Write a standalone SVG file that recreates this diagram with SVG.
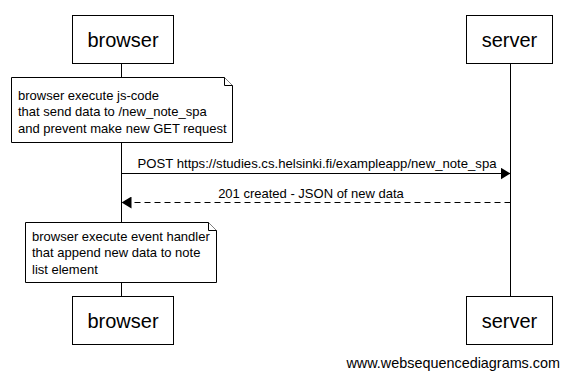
<svg xmlns="http://www.w3.org/2000/svg" width="568" height="378" viewBox="0 0 568 378">
  <style>
    .box { fill: #ffffff; stroke: #000000; stroke-width: 1; }
    .life { stroke: #000000; stroke-width: 1; fill: none; }
    .note { fill: #ffffff; stroke: #000000; stroke-width: 1; }
    .fold { fill: #ffffff; stroke: #000000; stroke-width: 1; }
    .actor { font-family: "Liberation Sans", Arial, sans-serif; font-size: 20px; fill: #000000; text-anchor: middle; }
    .txt { font-family: "Liberation Sans", Arial, sans-serif; font-size: 13px; fill: #000000; }
    .mid { text-anchor: middle; }
    .msg { stroke: #000000; stroke-width: 1; fill: none; }
    .dash { stroke-dasharray: 6 4; }
    .brand { font-family: "Liberation Sans", Arial, sans-serif; font-size: 14.4px; fill: #000000; text-anchor: end; }
  </style>
  <defs>
    <marker id="head" viewBox="0 0 10 12" refX="10" refY="6" markerWidth="10" markerHeight="12" markerUnits="userSpaceOnUse" orient="auto">
      <path d="M0,0 L10,6 L0,12 Z" fill="#000000"/>
    </marker>
  </defs>
  <rect width="568" height="378" fill="#ffffff"/>

  <!-- lifelines -->
  <g id="lifelines">
    <line class="life" x1="121.5" y1="64" x2="121.5" y2="296"/>
    <line class="life" x1="510.5" y1="63" x2="510.5" y2="296"/>
  </g>

  <!-- participants -->
  <g id="browser-top">
    <rect class="box" x="72.5" y="15.5" width="101" height="48"/>
    <text class="actor" x="123" y="47">browser</text>
  </g>
  <g id="server-top">
    <rect class="box" x="466.5" y="15.5" width="86" height="48"/>
    <text class="actor" x="509.5" y="47">server</text>
  </g>
  <g id="browser-bottom">
    <rect class="box" x="72.5" y="296.5" width="101" height="48"/>
    <text class="actor" x="123" y="328">browser</text>
  </g>
  <g id="server-bottom">
    <rect class="box" x="466.5" y="296.5" width="86" height="48"/>
    <text class="actor" x="509.5" y="328">server</text>
  </g>

  <!-- notes -->
  <g id="note-send">
    <path class="note" d="M11.5,77.5 H224.5 L232.5,85.5 V142.5 H11.5 Z"/>
    <path class="fold" d="M224.5,77.5 V85.5 H232.5"/>
    <text class="txt" x="18" y="99.5">browser execute js-code</text>
    <text class="txt" x="18" y="116">that send data to /new_note_spa</text>
    <text class="txt" x="18" y="132.5">and prevent make new GET request</text>
  </g>
  <g id="note-handler">
    <path class="note" d="M25.5,222.5 H208.5 L216.5,230.5 V282.5 H25.5 Z"/>
    <path class="fold" d="M208.5,222.5 V230.5 H216.5"/>
    <text class="txt" x="32" y="240.5">browser execute event handler</text>
    <text class="txt" x="32" y="257">that append new data to note</text>
    <text class="txt" x="32" y="273.5">list element</text>
  </g>

  <!-- messages -->
  <g id="connectors">
    <line class="msg" x1="121.5" y1="173.5" x2="510.5" y2="173.5" marker-end="url(#head)"/>
    <text class="txt mid" x="317" y="168" textLength="359" lengthAdjust="spacingAndGlyphs">POST https://studies.cs.helsinki.fi/exampleapp/new_note_spa</text>
    <line class="msg dash" x1="510.5" y1="202.5" x2="121.5" y2="202.5" marker-end="url(#head)"/>
    <text class="txt mid" x="311" y="198">201 created - JSON of new data</text>
  </g>

  <text class="brand" x="560" y="368">www.websequencediagrams.com</text>
</svg>
